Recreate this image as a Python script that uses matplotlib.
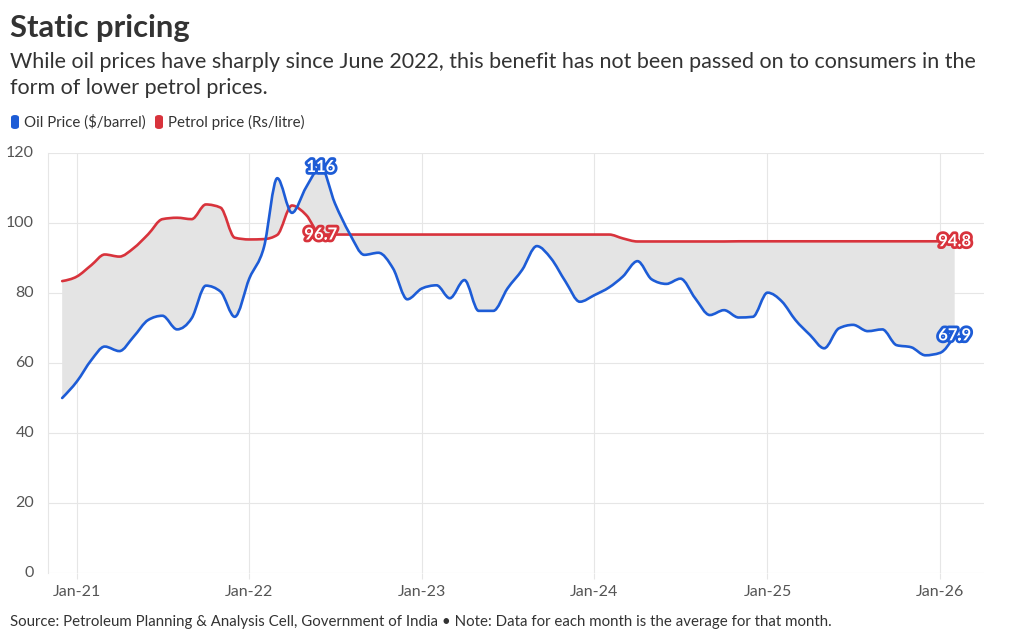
import matplotlib.pyplot as plt
import matplotlib.dates as mdates
import matplotlib.patheffects as pe
from matplotlib.path import Path
from matplotlib.patches import PathPatch, FancyBboxPatch
import numpy as np
import pandas as pd

plt.rcParams['font.family'] = ['Lato', 'DejaVu Sans']

months = pd.date_range('2020-12-01', '2026-02-01', freq='MS')

oil_price = [
    50.0,
    54.7, 60.9, 64.7, 63.4, 67.5, 72.3, 73.5, 69.6, 72.8, 82.1, 80.4, 73.2,
    84.2, 93.2, 112.8, 102.9, 110.2, 116.0, 105.6, 97.0, 90.9, 91.5, 87.0, 78.2,
    81.3, 82.2, 78.5, 83.7, 74.9, 74.9, 81.3, 86.6, 93.4, 89.9, 83.2, 77.5,
    79.4, 81.6, 84.7, 89.1, 83.9, 82.6, 84.1, 78.5, 73.7, 75.1, 73.0, 73.2,
    80.1, 77.5, 72.3, 68.0, 64.2, 69.9, 70.9, 69.1, 69.6, 65.1, 64.5, 62.2,
    62.9, 67.9,
]

petrol_price = [
    83.4,
    84.7, 88.0, 91.0, 90.4, 92.8, 96.8, 101.1, 101.5, 101.1, 105.3, 104.4, 95.8,
    95.3, 95.4, 96.6, 105.0, 102.3, 96.7, 96.7, 96.7, 96.7, 96.7, 96.7, 96.7,
    96.7, 96.7, 96.7, 96.7, 96.7, 96.7, 96.7, 96.7, 96.7, 96.7, 96.7, 96.7,
    96.7, 96.7, 95.6, 94.72, 94.72, 94.72, 94.72, 94.72, 94.72, 94.72, 94.77, 94.77,
    94.77, 94.77, 94.77, 94.77, 94.77, 94.77, 94.77, 94.77, 94.77, 94.77, 94.77, 94.77,
    94.77, 94.8,
]

year_ticks = ['2021-01-01', '2022-01-01', '2023-01-01', '2024-01-01', '2025-01-01', '2026-01-01']
year_labels = ['Jan-21', 'Jan-22', 'Jan-23', 'Jan-24', 'Jan-25', 'Jan-26']

BLUE = '#1d5cd6'
RED = '#d8333c'
GRID = '#e6e6e6'


def monotone_path(x, y):
    # smooth line like d3 curveMonotoneX, as cubic bezier segments
    x = np.asarray(x, float)
    y = np.asarray(y, float)
    h = np.diff(x)
    s = np.diff(y) / h
    n = len(x)
    t = np.zeros(n)
    for i in range(1, n - 1):
        p = (s[i - 1] * h[i] + s[i] * h[i - 1]) / (h[i - 1] + h[i])
        t[i] = (np.sign(s[i - 1]) + np.sign(s[i])) * min(abs(s[i - 1]), abs(s[i]), 0.5 * abs(p))
    t[0] = (3 * s[0] - t[1]) / 2
    t[-1] = (3 * s[-1] - t[-2]) / 2
    verts = [(x[0], y[0])]
    for i in range(n - 1):
        d = h[i] / 3
        verts.append((x[i] + d, y[i] + d * t[i]))
        verts.append((x[i + 1] - d, y[i + 1] - d * t[i + 1]))
        verts.append((x[i + 1], y[i + 1]))
    codes = [Path.MOVETO] + [Path.CURVE4] * (len(verts) - 1)
    return verts, codes


xs = mdates.date2num(months)
oil_v, oil_c = monotone_path(xs, oil_price)
pet_v, pet_c = monotone_path(xs, petrol_price)

fig = plt.figure(figsize=(10.2, 6.42), dpi=100)
ax = fig.add_axes([48 / 1020, 69 / 642, 936 / 1020, 420 / 642])

# grey band between the two series
band_v = pet_v + oil_v[::-1] + [pet_v[0]]
band_c = pet_c + [Path.LINETO] + [Path.CURVE4] * (len(oil_v) - 1) + [Path.CLOSEPOLY]
ax.add_patch(PathPatch(Path(band_v, band_c), facecolor='#e4e4e4', edgecolor='none', zorder=1))

ax.add_patch(PathPatch(Path(pet_v, pet_c), facecolor='none', edgecolor=RED, lw=1.9,
                       capstyle='round', joinstyle='round', zorder=3))
ax.add_patch(PathPatch(Path(oil_v, oil_c), facecolor='none', edgecolor=BLUE, lw=1.9,
                       capstyle='round', joinstyle='round', zorder=4))

ax.set_xlim(mdates.date2num(pd.Timestamp('2020-11-01')), mdates.date2num(pd.Timestamp('2026-04-04')))
ax.set_ylim(0, 120)

ax.set_yticks([0, 20, 40, 60, 80, 100, 120])
ax.set_xticks(mdates.date2num(pd.to_datetime(year_ticks)))
ax.set_xticklabels(year_labels)
ax.grid(True, color=GRID, lw=0.8, zorder=0)
ax.set_axisbelow(True)
for side in ['top', 'right', 'bottom']:
    ax.spines[side].set_visible(False)
ax.spines['left'].set_color(GRID)
ax.spines['left'].set_linewidth(0.8)
ax.tick_params(axis='y', length=0, pad=10, labelsize=11.5, labelcolor='#555555')
ax.tick_params(axis='x', length=4, color=GRID, width=0.8, pad=5, labelsize=11.5, labelcolor='#555555')
for lbl in ax.get_yticklabels():
    lbl.set_verticalalignment('center')


def value_label(i, values, color):
    ax.text(xs[i], values[i], f'{values[i]:g}', color='white', fontsize=12, fontweight='bold',
            ha='center', va='center', zorder=6,
            path_effects=[pe.withStroke(linewidth=4, foreground=color)])


value_label(oil_price.index(max(oil_price)), oil_price, BLUE)
value_label(len(oil_price) - 1, oil_price, BLUE)
value_label(petrol_price.index(96.7), petrol_price, RED)
value_label(len(petrol_price) - 1, petrol_price, RED)

fig.text(10 / 1020, 1 - 28 / 642, 'Static pricing', fontsize=22.3, fontweight='bold',
         color='#333333', va='center', ha='left')
fig.text(10 / 1020, 1 - 62 / 642,
         'While oil prices have sharply since June 2022, this benefit has not been passed on to consumers in the',
         fontsize=15.45, color='#333333', va='center', ha='left')
fig.text(10 / 1020, 1 - 88 / 642, 'form of lower petrol prices.',
         fontsize=15.45, color='#333333', va='center', ha='left')

# legend with rounded swatches
for x0, col, label in [(11, BLUE, 'Oil Price ($/barrel)'), (155, RED, 'Petrol price (Rs/litre)')]:
    fig.patches.append(FancyBboxPatch((x0 / 1020, 1 - 129 / 642), 8 / 1020, 14 / 642,
                                      boxstyle='round,pad=0,rounding_size=0.004',
                                      transform=fig.transFigure, facecolor=col, edgecolor='none'))
    fig.text((x0 + 13) / 1020, 1 - 122 / 642, label, fontsize=10.8, color='#333333',
             va='center', ha='left')

fig.text(10 / 1020, 1 - 622 / 642,
         'Source: Petroleum Planning & Analysis Cell, Government of India \u2022 Note: Data for each month is the average for that month.',
         fontsize=10.85, color='#333333', va='center', ha='left')

fig.savefig('out.png', dpi=100)
